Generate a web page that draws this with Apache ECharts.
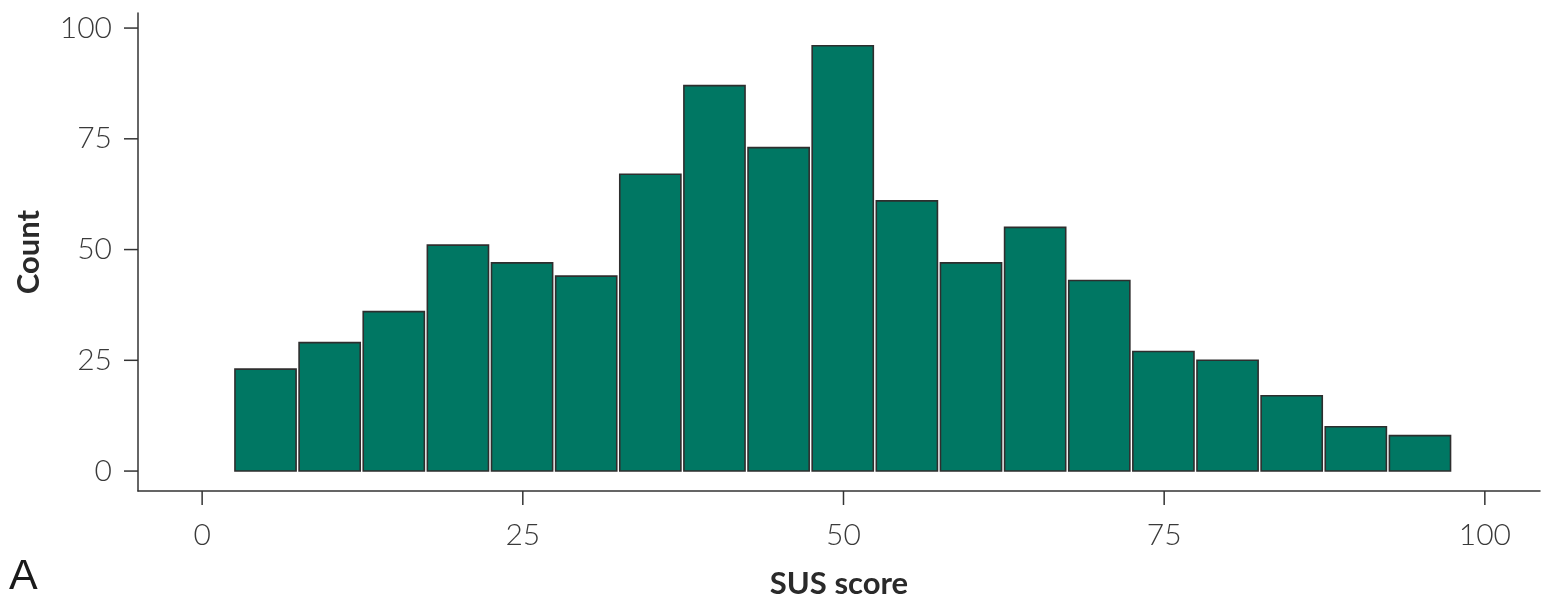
<!DOCTYPE html>
<html>
<head>
<meta charset="utf-8">
<script src="https://cdn.jsdelivr.net/npm/echarts@6/dist/echarts.min.js"></script>
<style>
  html, body { margin: 0; padding: 0; background: #fff; }
  #chart { width: 1541px; height: 604px; }
</style>
</head>
<body>
<div id="chart"></div>
<script>
// SUS score histogram: bins of width 5, from 2.5 to 97.5
const binStarts = [2.5, 7.5, 12.5, 17.5, 22.5, 27.5, 32.5, 37.5, 42.5, 47.5,
                   52.5, 57.5, 62.5, 67.5, 72.5, 77.5, 82.5, 87.5, 92.5];
const binWidth = 5;
const counts = [23, 29, 36, 51, 47, 44, 67, 87, 73, 96,
                61, 47, 55, 43, 27, 25, 17, 10, 8];
const tickValues = [0, 25, 50, 75, 100];
const xTitle = 'SUS score';
const yTitle = 'Count';
const panelLabel = 'A';

const X_MIN = -5, X_MAX = 104.3;
const Y_MIN = -4.5, Y_MAX = 103.4;
const TICK_LEN = 14;

const rows = binStarts.map((s, i) => [s, s + binWidth, counts[i]]);

const labelFont = { fontFamily: 'Lato', fontWeight: 300, fontSize: 30, color: '#3a3a3a' };
const titleFont = { fontFamily: 'Lato', fontWeight: 'bold', fontSize: 31, color: '#2a2a2a' };
const axisStroke = { stroke: '#333', lineWidth: 1.5 };

const chart = echarts.init(document.getElementById('chart'), null, { renderer: 'canvas' });
chart.setOption({
  animation: false,
  backgroundColor: '#ffffff',
  grid: { left: 138, right: 1, top: 13, bottom: 113, containLabel: false, outerBoundsMode: 'none' },
  xAxis: {
    type: 'value',
    min: X_MIN, max: X_MAX,
    name: xTitle,
    nameLocation: 'middle',
    nameGap: 77,
    nameTextStyle: titleFont,
    axisLine: { show: true, onZero: false, lineStyle: { color: '#333', width: 1.5 } },
    axisTick: { show: false },
    axisLabel: Object.assign({ customValues: tickValues, margin: 29 }, labelFont),
    splitLine: { show: false }
  },
  yAxis: {
    type: 'value',
    min: Y_MIN, max: Y_MAX,
    name: yTitle,
    nameLocation: 'middle',
    nameGap: 94,
    nameRotate: 90,
    nameTextStyle: titleFont,
    axisLine: { show: true, onZero: false, lineStyle: { color: '#333', width: 1.5 } },
    axisTick: { show: false },
    axisLabel: Object.assign({ customValues: tickValues, margin: 26 }, labelFont),
    splitLine: { show: false }
  },
  graphic: [{
    type: 'text',
    left: 9,
    top: 556,
    style: { text: panelLabel, font: '400 43px "Liberation Sans", Arial, sans-serif', fill: '#1a1a1a' }
  }],
  series: [
    {
      // histogram bars
      type: 'custom',
      data: rows,
      encode: { x: [0, 1], y: 2 },
      renderItem: function (params, api) {
        const p0 = api.coord([api.value(0), 0]);
        const p1 = api.coord([api.value(1), api.value(2)]);
        const gap = 3;
        return {
          type: 'rect',
          shape: {
            x: p0[0] + 0.75,
            y: p1[1],
            width: p1[0] - p0[0] - gap,
            height: p0[1] - p1[1]
          },
          style: { fill: '#007763', stroke: '#2e2e2e', lineWidth: 1.6 }
        };
      }
    },
    {
      // x-axis tick marks, hanging below the axis line
      type: 'custom',
      clip: false,
      silent: true,
      data: tickValues.map(v => [v]),
      encode: { x: 0 },
      renderItem: function (params, api) {
        const p = api.coord([api.value(0), Y_MIN]);
        return {
          type: 'line',
          shape: { x1: p[0], y1: p[1], x2: p[0], y2: p[1] + TICK_LEN },
          style: axisStroke
        };
      }
    },
    {
      // y-axis tick marks, pointing left of the axis line
      type: 'custom',
      clip: false,
      silent: true,
      data: tickValues.map(v => [v]),
      encode: { y: 0 },
      renderItem: function (params, api) {
        const p = api.coord([X_MIN, api.value(0)]);
        return {
          type: 'line',
          shape: { x1: p[0] - TICK_LEN, y1: p[1], x2: p[0], y2: p[1] },
          style: axisStroke
        };
      }
    }
  ]
});
</script>
</body>
</html>
